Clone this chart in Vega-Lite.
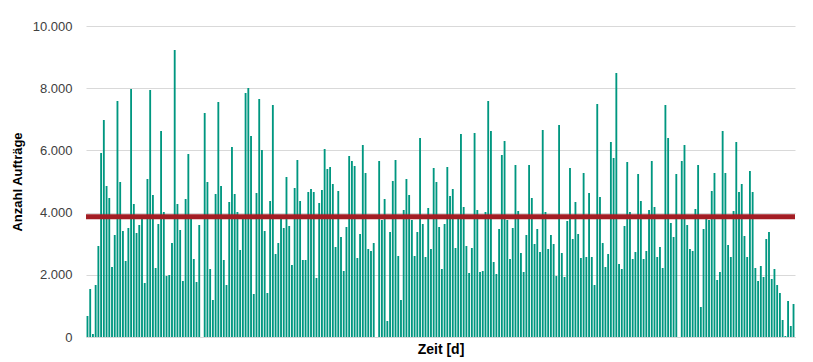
{
  "$schema": "https://vega.github.io/schema/vega-lite/v6.json",
  "width": 709,
  "height": 311,
  "autosize": {"type": "none"},
  "padding": {"left": 86, "top": 26, "right": 18, "bottom": 25},
  "config": {
    "locale": {"number": {"decimal": ",", "thousands": ".", "grouping": [3], "currency": ["", " €"]}},
    "view": {"stroke": null},
    "font": "Liberation Sans"
  },
  "layer": [
    {
      "data": {"values": [
        {"Tag":1,"Auftraege":675},{"Tag":2,"Auftraege":1543},{"Tag":3,"Auftraege":96},{"Tag":4,"Auftraege":1672},{"Tag":5,"Auftraege":2926},
        {"Tag":6,"Auftraege":5916},{"Tag":7,"Auftraege":6977},{"Tag":8,"Auftraege":4855},{"Tag":9,"Auftraege":4469},{"Tag":10,"Auftraege":2251},
        {"Tag":11,"Auftraege":3280},{"Tag":12,"Auftraege":7588},{"Tag":13,"Auftraege":4984},{"Tag":14,"Auftraege":3408},{"Tag":15,"Auftraege":2444},
        {"Tag":16,"Auftraege":3505},{"Tag":17,"Auftraege":7974},{"Tag":18,"Auftraege":4277},{"Tag":19,"Auftraege":3344},{"Tag":20,"Auftraege":3601},
        {"Tag":21,"Auftraege":3794},{"Tag":22,"Auftraege":1736},{"Tag":23,"Auftraege":5080},{"Tag":24,"Auftraege":7942},{"Tag":25,"Auftraege":4566},
        {"Tag":26,"Auftraege":2219},{"Tag":27,"Auftraege":3633},{"Tag":28,"Auftraege":6624},{"Tag":29,"Auftraege":4019},{"Tag":30,"Auftraege":1961},
        {"Tag":31,"Auftraege":1994},{"Tag":32,"Auftraege":3022},{"Tag":33,"Auftraege":9228},{"Tag":34,"Auftraege":4277},{"Tag":35,"Auftraege":3441},
        {"Tag":36,"Auftraege":1801},{"Tag":37,"Auftraege":4437},{"Tag":38,"Auftraege":5884},{"Tag":39,"Auftraege":3794},{"Tag":40,"Auftraege":2508},
        {"Tag":41,"Auftraege":1768},{"Tag":42,"Auftraege":3601},{"Tag":43,"Auftraege":0},{"Tag":44,"Auftraege":7203},{"Tag":45,"Auftraege":4984},
        {"Tag":46,"Auftraege":2186},{"Tag":47,"Auftraege":1190},{"Tag":48,"Auftraege":4598},{"Tag":49,"Auftraege":7556},{"Tag":50,"Auftraege":4855},
        {"Tag":51,"Auftraege":2476},{"Tag":52,"Auftraege":1672},{"Tag":53,"Auftraege":4341},{"Tag":54,"Auftraege":6109},{"Tag":55,"Auftraege":4598},
        {"Tag":56,"Auftraege":4019},{"Tag":57,"Auftraege":2797},{"Tag":58,"Auftraege":3794},{"Tag":59,"Auftraege":7846},{"Tag":60,"Auftraege":8006},
        {"Tag":61,"Auftraege":6463},{"Tag":62,"Auftraege":1383},{"Tag":63,"Auftraege":4630},{"Tag":64,"Auftraege":7653},{"Tag":65,"Auftraege":6013},
        {"Tag":66,"Auftraege":3408},{"Tag":67,"Auftraege":1415},{"Tag":68,"Auftraege":4373},{"Tag":69,"Auftraege":7460},{"Tag":70,"Auftraege":2669},
        {"Tag":71,"Auftraege":3022},{"Tag":72,"Auftraege":3794},{"Tag":73,"Auftraege":3505},{"Tag":74,"Auftraege":5145},{"Tag":75,"Auftraege":3569},
        {"Tag":76,"Auftraege":2315},{"Tag":77,"Auftraege":4791},{"Tag":78,"Auftraege":5691},{"Tag":79,"Auftraege":4373},{"Tag":80,"Auftraege":2476},
        {"Tag":81,"Auftraege":2476},{"Tag":82,"Auftraege":4662},{"Tag":83,"Auftraege":4759},{"Tag":84,"Auftraege":4662},{"Tag":85,"Auftraege":1897},
        {"Tag":86,"Auftraege":4309},{"Tag":87,"Auftraege":4727},{"Tag":88,"Auftraege":6045},{"Tag":89,"Auftraege":5402},{"Tag":90,"Auftraege":5466},
        {"Tag":91,"Auftraege":4920},{"Tag":92,"Auftraege":2894},{"Tag":93,"Auftraege":4695},{"Tag":94,"Auftraege":3215},{"Tag":95,"Auftraege":2122},
        {"Tag":96,"Auftraege":3537},{"Tag":97,"Auftraege":5820},{"Tag":98,"Auftraege":5659},{"Tag":99,"Auftraege":5498},{"Tag":100,"Auftraege":2540},
        {"Tag":101,"Auftraege":3312},{"Tag":102,"Auftraege":6174},{"Tag":103,"Auftraege":5273},{"Tag":104,"Auftraege":2830},{"Tag":105,"Auftraege":2765},
        {"Tag":106,"Auftraege":3022},{"Tag":107,"Auftraege":0},{"Tag":108,"Auftraege":5659},{"Tag":109,"Auftraege":3762},{"Tag":110,"Auftraege":4437},
        {"Tag":111,"Auftraege":514},{"Tag":112,"Auftraege":3376},{"Tag":113,"Auftraege":5016},{"Tag":114,"Auftraege":5691},{"Tag":115,"Auftraege":2605},
        {"Tag":116,"Auftraege":1190},{"Tag":117,"Auftraege":4084},{"Tag":118,"Auftraege":5080},{"Tag":119,"Auftraege":4566},{"Tag":120,"Auftraege":3762},
        {"Tag":121,"Auftraege":2605},{"Tag":122,"Auftraege":3376},{"Tag":123,"Auftraege":6399},{"Tag":124,"Auftraege":3633},{"Tag":125,"Auftraege":2572},
        {"Tag":126,"Auftraege":4148},{"Tag":127,"Auftraege":2830},{"Tag":128,"Auftraege":5434},{"Tag":129,"Auftraege":4984},{"Tag":130,"Auftraege":3537},
        {"Tag":131,"Auftraege":2186},{"Tag":132,"Auftraege":3633},{"Tag":133,"Auftraege":5466},{"Tag":134,"Auftraege":4534},{"Tag":135,"Auftraege":4759},
        {"Tag":136,"Auftraege":2862},{"Tag":137,"Auftraege":3794},{"Tag":138,"Auftraege":6527},{"Tag":139,"Auftraege":4180},{"Tag":140,"Auftraege":2926},
        {"Tag":141,"Auftraege":2058},{"Tag":142,"Auftraege":2862},{"Tag":143,"Auftraege":6559},{"Tag":144,"Auftraege":4084},{"Tag":145,"Auftraege":2090},
        {"Tag":146,"Auftraege":2122},{"Tag":147,"Auftraege":4019},{"Tag":148,"Auftraege":7588},{"Tag":149,"Auftraege":6624},{"Tag":150,"Auftraege":2412},
        {"Tag":151,"Auftraege":2026},{"Tag":152,"Auftraege":3473},{"Tag":153,"Auftraege":5852},{"Tag":154,"Auftraege":6302},{"Tag":155,"Auftraege":3762},
        {"Tag":156,"Auftraege":2508},{"Tag":157,"Auftraege":3505},{"Tag":158,"Auftraege":5531},{"Tag":159,"Auftraege":4051},{"Tag":160,"Auftraege":2701},
        {"Tag":161,"Auftraege":2090},{"Tag":162,"Auftraege":3280},{"Tag":163,"Auftraege":5531},{"Tag":164,"Auftraege":4469},{"Tag":165,"Auftraege":2990},
        {"Tag":166,"Auftraege":3473},{"Tag":167,"Auftraege":2733},{"Tag":168,"Auftraege":6656},{"Tag":169,"Auftraege":4019},{"Tag":170,"Auftraege":2830},
        {"Tag":171,"Auftraege":3280},{"Tag":172,"Auftraege":2990},{"Tag":173,"Auftraege":1961},{"Tag":174,"Auftraege":6817},{"Tag":175,"Auftraege":2701},
        {"Tag":176,"Auftraege":1929},{"Tag":177,"Auftraege":3730},{"Tag":178,"Auftraege":5434},{"Tag":179,"Auftraege":3151},{"Tag":180,"Auftraege":4341},
        {"Tag":181,"Auftraege":3312},{"Tag":182,"Auftraege":2540},{"Tag":183,"Auftraege":5273},{"Tag":184,"Auftraege":2572},{"Tag":185,"Auftraege":4630},
        {"Tag":186,"Auftraege":2572},{"Tag":187,"Auftraege":1672},{"Tag":188,"Auftraege":7492},{"Tag":189,"Auftraege":4502},{"Tag":190,"Auftraege":3022},
        {"Tag":191,"Auftraege":2251},{"Tag":192,"Auftraege":2669},{"Tag":193,"Auftraege":6270},{"Tag":194,"Auftraege":5756},{"Tag":195,"Auftraege":8489},
        {"Tag":196,"Auftraege":2347},{"Tag":197,"Auftraege":2186},{"Tag":198,"Auftraege":3569},{"Tag":199,"Auftraege":5627},{"Tag":200,"Auftraege":4019},
        {"Tag":201,"Auftraege":2508},{"Tag":202,"Auftraege":2733},{"Tag":203,"Auftraege":5241},{"Tag":204,"Auftraege":4373},{"Tag":205,"Auftraege":2508},
        {"Tag":206,"Auftraege":2765},{"Tag":207,"Auftraege":4084},{"Tag":208,"Auftraege":5659},{"Tag":209,"Auftraege":4180},{"Tag":210,"Auftraege":2572},
        {"Tag":211,"Auftraege":2894},{"Tag":212,"Auftraege":2219},{"Tag":213,"Auftraege":7460},{"Tag":214,"Auftraege":6399},{"Tag":215,"Auftraege":3666},
        {"Tag":216,"Auftraege":3215},{"Tag":217,"Auftraege":5241},{"Tag":218,"Auftraege":0},{"Tag":219,"Auftraege":5659},{"Tag":220,"Auftraege":6174},
        {"Tag":221,"Auftraege":3601},{"Tag":222,"Auftraege":2830},{"Tag":223,"Auftraege":2765},{"Tag":224,"Auftraege":4116},{"Tag":225,"Auftraege":5531},
        {"Tag":226,"Auftraege":965},{"Tag":227,"Auftraege":3473},{"Tag":228,"Auftraege":3794},{"Tag":229,"Auftraege":3762},{"Tag":230,"Auftraege":4695},
        {"Tag":231,"Auftraege":5273},{"Tag":232,"Auftraege":1833},{"Tag":233,"Auftraege":2090},{"Tag":234,"Auftraege":6624},{"Tag":235,"Auftraege":5273},
        {"Tag":236,"Auftraege":2958},{"Tag":237,"Auftraege":2572},{"Tag":238,"Auftraege":4051},{"Tag":239,"Auftraege":6270},{"Tag":240,"Auftraege":4662},
        {"Tag":241,"Auftraege":4920},{"Tag":242,"Auftraege":3248},{"Tag":243,"Auftraege":2572},{"Tag":244,"Auftraege":5338},{"Tag":245,"Auftraege":4662},
        {"Tag":246,"Auftraege":2219},{"Tag":247,"Auftraege":1801},{"Tag":248,"Auftraege":2283},{"Tag":249,"Auftraege":1929},{"Tag":250,"Auftraege":3151},
        {"Tag":251,"Auftraege":3376},{"Tag":252,"Auftraege":1865},{"Tag":253,"Auftraege":2186},{"Tag":254,"Auftraege":1672},{"Tag":255,"Auftraege":1415},
        {"Tag":256,"Auftraege":547},{"Tag":257,"Auftraege":32},{"Tag":258,"Auftraege":1158},{"Tag":259,"Auftraege":354},{"Tag":260,"Auftraege":1061}
      ]},
      "mark": {"type": "bar", "color": "#009780"},
      "encoding": {
        "x": {
          "field": "Tag", "type": "ordinal", "sort": null,
          "scale": {"paddingInner": 0.32, "paddingOuter": 0.2},
          "axis": {"labels": false, "ticks": false, "domain": true, "domainColor": "#d9d9d9", "domainWidth": 1,
                   "title": "Zeit [d]", "titleFontSize": 14, "titleFontWeight": "bold", "titleColor": "#000000", "titlePadding": 5}
        },
        "y": {
          "field": "Auftraege", "type": "quantitative",
          "scale": {"domain": [0, 10000], "nice": false},
          "axis": {"values": [0, 2000, 4000, 6000, 8000, 10000], "format": ",.0f",
                   "grid": true, "gridColor": "#d9d9d9", "gridWidth": 1, "domain": false, "ticks": false,
                   "labelFontSize": 13, "labelColor": "#404040", "labelPadding": 14,
                   "title": "Anzahl Aufträge", "titleFontSize": 13, "titleFontWeight": "bold", "titleColor": "#000000", "titlePadding": 8}
        }
      }
    },
    {
      "data": {"values": [{"Mittelwert": 3870}]},
      "mark": {"type": "rule", "color": "#A31D24", "strokeWidth": 5},
      "encoding": {"y": {"field": "Mittelwert", "type": "quantitative"}}
    }
  ]
}
